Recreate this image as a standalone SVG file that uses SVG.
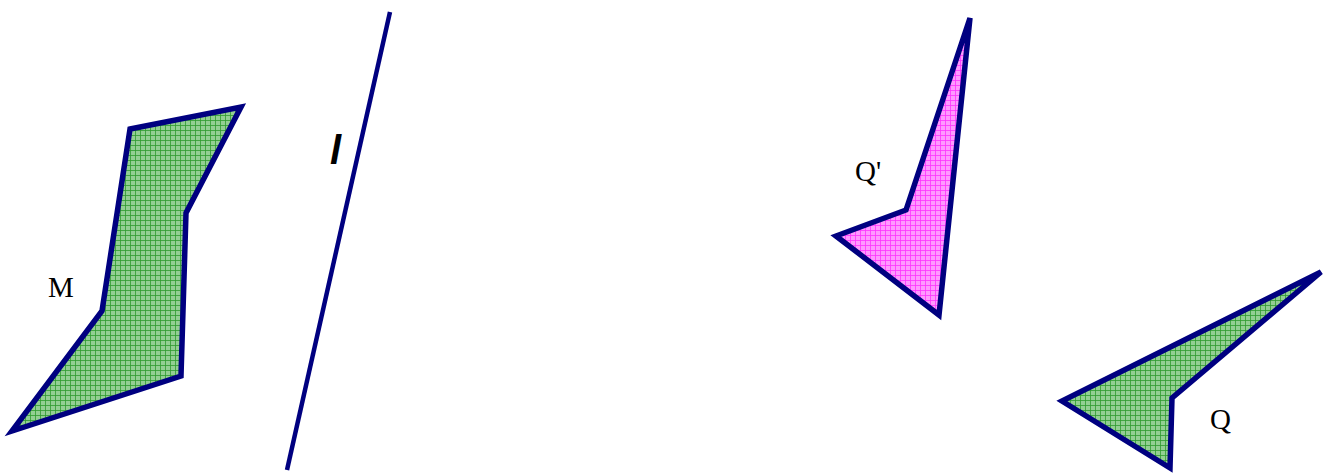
<svg xmlns="http://www.w3.org/2000/svg" width="1323" height="474" viewBox="0 0 1323 474">
<style>
.shape{stroke:#000080;stroke-width:5.5;stroke-linejoin:miter}
.lbl{font-family:"Liberation Serif",serif;font-size:29px;fill:#000}
</style>
<defs>
<pattern id="gg" width="5" height="5" patternUnits="userSpaceOnUse">
<rect width="5" height="5" fill="#93cf93"/>
<path d="M0 0.5H5M0.5 0V5" stroke="#2f9a2f" stroke-width="0.8"/>
</pattern>
<pattern id="pg" width="5" height="5" patternUnits="userSpaceOnUse">
<rect width="5" height="5" fill="#ff99ff"/>
<path d="M0 0.5H5M0.5 0V5" stroke="#ff33ff" stroke-width="0.8"/>
</pattern>
</defs>
<rect width="1323" height="474" fill="#fff"/>
<g id="lineL">
<line x1="390" y1="12" x2="287" y2="470" stroke="#000080" stroke-width="4.5"/>
<text x="330" y="164" font-family="Liberation Sans,sans-serif" font-size="40" font-weight="bold" font-style="italic">l</text>
</g>
<g id="M">
<polygon class="shape" fill="url(#gg)" points="130,129 241,107 186,213 181,376 12,431 102,311"/>
<text class="lbl" x="48" y="297">M</text>
</g>
<g id="Qprime">
<polygon class="shape" fill="url(#pg)" points="970,18 939,315 836,236 906,210"/>
<text class="lbl" x="855" y="181">Q'</text>
</g>
<g id="Q">
<polygon class="shape" fill="url(#gg)" points="1321,272 1172,398 1170,468 1062,401"/>
<text class="lbl" x="1210" y="429">Q</text>
</g>
</svg>
